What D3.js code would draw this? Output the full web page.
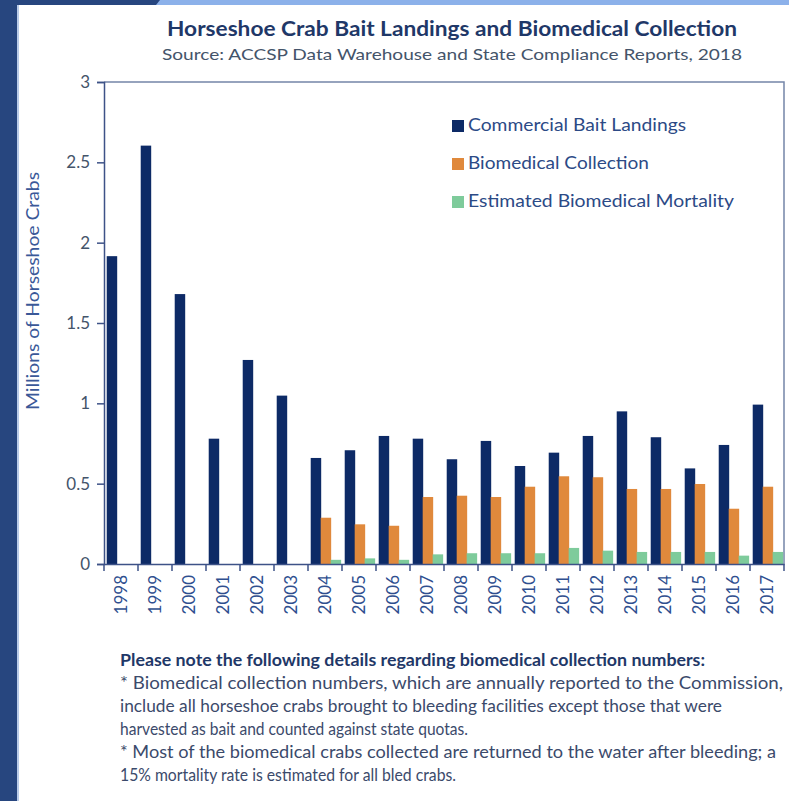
<!DOCTYPE html>
<html>
<head>
<meta charset="utf-8">
<script src="https://cdn.jsdelivr.net/npm/d3@7"></script>
<style>
  body { margin: 0; background: #fff; }
  svg { display: block; font-family: Lato, "Open Sans", sans-serif; }
</style>
</head>
<body>
<div id="chart"></div>
<script>
// data
var years = ["1998", "1999", "2000", "2001", "2002", "2003", "2004", "2005", "2006", "2007",
  "2008", "2009", "2010", "2011", "2012", "2013", "2014", "2015", "2016", "2017"];
var series = ["Commercial Bait Landings", "Biomedical Collection", "Estimated Biomedical Mortality"];
var bait = [1.916, 2.604, 1.680, 0.78, 1.27, 1.048, 0.66, 0.708, 0.797, 0.78,
  0.652, 0.766, 0.61, 0.693, 0.797, 0.95, 0.789, 0.595, 0.741, 0.992];
var biomedical = [0, 0, 0, 0, 0, 0, 0.288, 0.247, 0.238, 0.417,
  0.425, 0.417, 0.481, 0.546, 0.54, 0.467, 0.467, 0.498, 0.344, 0.481];
var mortality = [0, 0, 0, 0, 0, 0, 0.026, 0.035, 0.026, 0.06,
  0.067, 0.067, 0.067, 0.10, 0.083, 0.075, 0.075, 0.075, 0.052, 0.075];
var yTicks = [0, 0.5, 1, 1.5, 2, 2.5, 3];
var colors = ["#0d2a66", "#e0893c", "#7ecb9b"];
var legendWidths = [218, 181, 266];

var notes = [
  "Please note the following details regarding biomedical collection numbers:",
  "* Biomedical collection numbers, which are annually reported to the Commission,",
  "include all horseshoe crabs brought to bleeding facilities except those that were",
  "harvested as bait and counted against state quotas.",
  "* Most of the biomedical crabs collected are returned to the water after bleeding; a",
  "15% mortality rate is estimated for all bled crabs."
];
var noteWidths = [585, 663, 602, 348, 656, 336];

var table = years.map(function (yr, i) {
  return { year: yr, values: [bait[i], biomedical[i], mortality[i]] };
});

var width = 789, height = 801;
var svg = d3.select("#chart").append("svg")
  .attr("width", width).attr("height", height);

// page decoration
svg.append("rect").attr("x", 0).attr("y", 0).attr("width", width).attr("height", 5).attr("fill", "#8cb1ea");
svg.append("path").attr("d", "M0,0 L160,0 L156,5 L0,5 Z").attr("fill", "#27467f");
svg.append("rect").attr("x", 0).attr("y", 0).attr("width", 17).attr("height", height).attr("fill", "#27467f");
svg.append("rect").attr("x", 17).attr("y", 5).attr("width", 2).attr("height", height).attr("fill", "#b9cbe8");

// title
svg.append("text")
  .attr("x", 452).attr("y", 36)
  .attr("text-anchor", "middle")
  .attr("font-size", 20).attr("font-weight", "bold")
  .attr("fill", "#1f3868")
  .attr("textLength", 570).attr("lengthAdjust", "spacingAndGlyphs")
  .text("Horseshoe Crab Bait Landings and Biomedical Collection");

svg.append("text")
  .attr("x", 452).attr("y", 60)
  .attr("text-anchor", "middle")
  .attr("font-size", 16)
  .attr("fill", "#44546a")
  .attr("textLength", 580).attr("lengthAdjust", "spacingAndGlyphs")
  .text("Source: ACCSP Data Warehouse and State Compliance Reports, 2018");

var plot = { left: 104, right: 784, top: 82, bottom: 564 };

var x0 = d3.scaleBand().domain(years).range([plot.left, plot.right]).paddingInner(0).paddingOuter(0);
var bw = x0.bandwidth();
var x1 = d3.scaleBand().domain(d3.range(series.length)).range([bw * 0.08, bw * 0.96]);
var y = d3.scaleLinear().domain([0, 3]).range([plot.bottom, plot.top]);

// frame top and right
svg.append("path")
  .attr("d", "M" + plot.left + "," + plot.top + "H" + plot.right + "V" + plot.bottom)
  .attr("fill", "none").attr("stroke", "#7485a8").attr("stroke-width", 1.5);

// bars
var groups = svg.append("g").selectAll("g")
  .data(table).enter().append("g")
  .attr("transform", function (d) { return "translate(" + x0(d.year) + ",0)"; });

groups.selectAll("rect")
  .data(function (d) { return d.values; })
  .enter().append("rect")
  .attr("x", function (d, i) { return x1(i); })
  .attr("width", x1.bandwidth() + 0.5)
  .attr("y", function (d) { return y(d); })
  .attr("height", function (d) { return y(0) - y(d); })
  .attr("fill", function (d, i) { return colors[i]; });

// y axis
var yAxis = svg.append("g")
  .attr("transform", "translate(" + plot.left + ",0)")
  .call(d3.axisLeft(y).tickValues(yTicks).tickSize(7).tickPadding(7).tickFormat(function (d) { return d; }));
yAxis.select(".domain").attr("stroke", "#3d5287").attr("stroke-width", 1.5);
yAxis.selectAll(".tick line").attr("stroke", "#3d5287").attr("stroke-width", 1.5);
yAxis.selectAll(".tick text")
  .attr("font-family", "Lato, sans-serif").attr("font-size", 17).attr("fill", "#44546a");

// x axis: labels at band centres, ticks at band edges
var xAxis = svg.append("g")
  .attr("transform", "translate(0," + plot.bottom + ")")
  .call(d3.axisBottom(x0).tickSize(0).tickPadding(0));
xAxis.select(".domain").attr("stroke", "#3d5287").attr("stroke-width", 1.5);
xAxis.selectAll(".tick text")
  .attr("font-family", "Lato, sans-serif").attr("font-size", 17).attr("fill", "#2f4f8f")
  .attr("text-anchor", "end")
  .attr("transform", "translate(0,11) rotate(-90)")
  .attr("x", 0).attr("y", 0).attr("dy", "0.35em");

var edges = years.map(function (d) { return x0(d); }).concat([plot.right]);
xAxis.selectAll(".edge").data(edges).enter().append("line")
  .attr("class", "edge")
  .attr("x1", function (d) { return d; }).attr("x2", function (d) { return d; })
  .attr("y1", 0).attr("y2", 7)
  .attr("stroke", "#3d5287").attr("stroke-width", 1.5);

// y axis title
svg.append("text")
  .attr("transform", "translate(39,291) rotate(-90)")
  .attr("text-anchor", "middle")
  .attr("font-size", 17)
  .attr("fill", "#3a5898")
  .attr("textLength", 238).attr("lengthAdjust", "spacingAndGlyphs")
  .text("Millions of Horseshoe Crabs");

// legend
var legend = svg.append("g").selectAll("g")
  .data(series).enter().append("g")
  .attr("transform", function (d, i) { return "translate(452," + (125 + i * 38) + ")"; });
legend.append("rect")
  .attr("x", 0).attr("y", -5).attr("width", 12).attr("height", 12)
  .attr("fill", function (d, i) { return colors[i]; });
legend.append("text")
  .attr("x", 16).attr("y", 0).attr("dy", "0.35em")
  .attr("font-size", 18).attr("fill", "#2c4a86")
  .attr("textLength", function (d, i) { return legendWidths[i]; })
  .attr("lengthAdjust", "spacingAndGlyphs")
  .text(function (d) { return d; });

// notes under the chart
svg.append("g").selectAll("text")
  .data(notes).enter().append("text")
  .attr("x", 120)
  .attr("y", function (d, i) { return 666 + i * 23; })
  .attr("font-size", 17)
  .attr("font-weight", function (d, i) { return i === 0 ? "bold" : "normal"; })
  .attr("fill", function (d, i) { return i === 0 ? "#1f3868" : "#3b4a6b"; })
  .attr("textLength", function (d, i) { return noteWidths[i]; })
  .attr("lengthAdjust", "spacingAndGlyphs")
  .text(function (d) { return d; });
</script>
</body>
</html>
